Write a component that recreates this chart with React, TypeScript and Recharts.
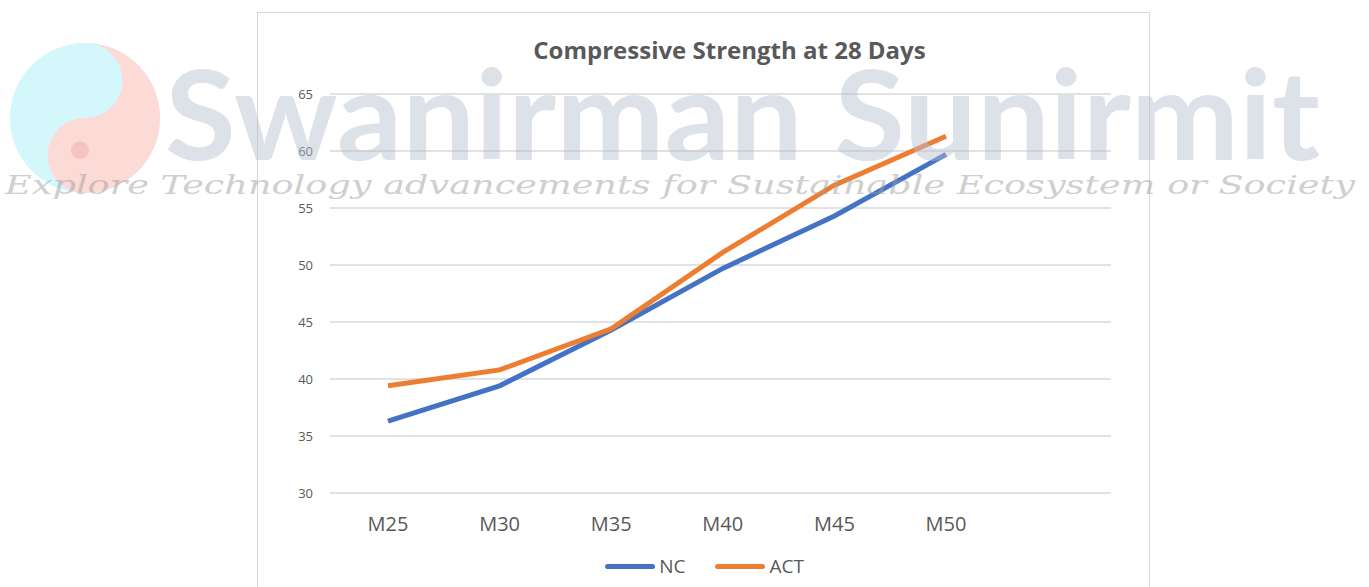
import React from 'react';
import { LineChart, Line, XAxis, YAxis, CartesianGrid, Legend } from 'recharts';

const grades = ['M25', 'M30', 'M35', 'M40', 'M45', 'M50'];
const ncStrength = [36.3, 39.4, 44.3, 49.7, 54.3, 59.7];
const actStrength = [39.4, 40.8, 44.4, 51.1, 57.0, 61.3];
const yTicks = [30, 35, 40, 45, 50, 55, 60, 65];

const seriesInfo = [
  { key: 'NC', color: '#4472C4' },
  { key: 'ACT', color: '#ED7D31' },
];

const data = grades.map((g, i) => ({ grade: g, NC: ncStrength[i], ACT: actStrength[i] }));

const font = '"Open Sans", Calibri, sans-serif';

const LegendContent = () => (
  <div style={{ display: 'flex', justifyContent: 'center', gap: 30, fontFamily: font, fontSize: 19, color: '#595959' }}>
    {seriesInfo.map((s) => (
      <div key={s.key} style={{ display: 'flex', alignItems: 'center' }}>
        <span style={{ display: 'inline-block', width: 50, height: 5, borderRadius: 3, background: s.color, marginRight: 4 }} />
        <span>{s.key}</span>
      </div>
    ))}
  </div>
);

const Watermark = () => (
  <div style={{ position: 'absolute', left: 0, top: 0, width: 1369, height: 587, pointerEvents: 'none' }}>
    <svg width={1369} height={587} style={{ position: 'absolute', left: 0, top: 0 }}>
      <g opacity={0.3}>
        <circle cx={85} cy={118} r={75} fill="#6fe6f2" />
        <path d="M85 43 A75 75 0 0 1 85 193 A37.5 37.5 0 0 1 85 118 A37.5 37.5 0 0 0 85 43 Z" fill="#f78a7a" />
        <circle cx={80} cy={150} r={9} fill="#e23b3b" />
      </g>
      <text x={165} y={160} textLength={1155} lengthAdjust="spacingAndGlyphs" fontFamily="Lato, sans-serif" fontWeight={700} fontSize={124} fill="#b5c0d0" opacity={0.45}>
        Swanirman Sunirmit
      </text>
      <text x={5} y={194} textLength={1350} lengthAdjust="spacingAndGlyphs" fontFamily="'DejaVu Serif', serif" fontStyle="italic" fontSize={26} fill="#a0a0a0" opacity={0.5}>
        Explore Technology advancements for Sustainable Ecosystem or Society
      </text>
    </svg>
  </div>
);

export default function App() {
  return (
    <div style={{ position: 'absolute', left: 0, top: 0, width: 1369, height: 587, background: '#fff', overflow: 'hidden' }}>
      <div style={{ position: 'absolute', left: 257, top: 12, width: 893, height: 600, border: '1px solid #d9d9d9', boxSizing: 'border-box' }}>
        <div style={{ position: 'absolute', left: 0, top: 20, width: 943, textAlign: 'center', fontFamily: font, fontWeight: 700, fontSize: 24, color: '#595959' }}>
          Compressive Strength at 28 Days
        </div>
        <LineChart width={893} height={575} data={data} margin={{ top: 81, right: 40, left: 0, bottom: 19 }}>
          <CartesianGrid vertical={false} stroke="#d9d9d9" strokeWidth={1.5} />
          <XAxis
            dataKey="grade"
            axisLine={false}
            tickLine={false}
            padding={{ left: 58, right: 165 }}
            tick={{ fill: '#595959', fontSize: 20, fontFamily: font }}
            tickSize={0}
            tickMargin={24}
            height={50}
          />
          <YAxis
            domain={[30, 65]}
            ticks={yTicks}
            axisLine={false}
            tickLine={false}
            tickSize={0}
            tickMargin={17}
            width={72}
            tick={{ fill: '#595959', fontSize: 13, fontFamily: font }}
          />
          <Legend verticalAlign="bottom" content={<LegendContent />} wrapperStyle={{ left: 0, width: 893, bottom: 9 }} />
          {seriesInfo.map((s) => (
            <Line
              key={s.key}
              dataKey={s.key}
              stroke={s.color}
              strokeWidth={5}
              dot={false}
              type="linear"
              isAnimationActive={false}
            />
          ))}
        </LineChart>
      </div>
      <Watermark />
    </div>
  );
}
